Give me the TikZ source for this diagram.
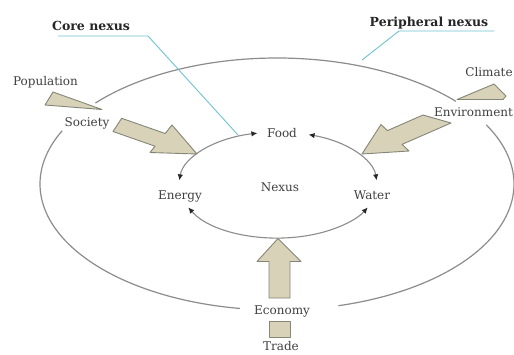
\documentclass[tikz,border=0pt]{standalone}
\usepackage{fontspec}
\setmainfont{DejaVu Serif}
\usetikzlibrary{arrows.meta}
\definecolor{beige}{HTML}{D8D3B8}
\definecolor{edgegray}{HTML}{858578}
\definecolor{linegray}{HTML}{8C8C8C}
\definecolor{leader}{HTML}{6EC3D3}
\definecolor{txt}{HTML}{404040}
\begin{document}
\begin{tikzpicture}[x=1pt,y=-1pt,
  lbl/.style={font=\fontsize{12}{14}\selectfont, text=txt, inner sep=0pt, anchor=base},
  ttl/.style={font=\fontsize{12.5}{14}\selectfont\bfseries, text=black!85, inner sep=0pt, anchor=base},
  bigarrow/.style={fill=beige, draw=edgegray, line width=0.9pt, line join=round},
  outer/.style={draw=linegray, line width=1.2pt},
  innerarc/.style={draw=linegray, line width=1.1pt,
     {Latex[length=6pt,width=5.5pt,color=black!85]}-{Latex[length=6pt,width=5.5pt,color=black!85]}},
  leaderline/.style={draw=leader, line width=0.9pt}]
\useasboundingbox (0,0) rectangle (514,354);
\fill[white] (0,0) rectangle (514,354);

% centres
\coordinate (O) at (277,184);
\coordinate (I) at (278,185);

% outer (peripheral) ellipse, broken at labels
\draw[outer] (O) ++(-140:237 and 126) arc[start angle=-140, end angle=-41, x radius=237, y radius=126];
\draw[outer] (O) ++(-28:237 and 126) arc[start angle=-28, end angle=75, x radius=237, y radius=126];
\draw[outer] (O) ++(99:237 and 126) arc[start angle=99, end angle=205, x radius=237, y radius=126];

% inner (core) loop
\draw[innerarc] (I) ++(-102:99 and 53) arc[start angle=-102, end angle=-175, x radius=99, y radius=53];
\draw[innerarc] (I) ++(-72:99 and 53) arc[start angle=-72, end angle=-5, x radius=99, y radius=53];
\draw[innerarc] (I) ++(155:99 and 53) arc[start angle=155, end angle=25, x radius=99, y radius=53];

% big arrows
\draw[bigarrow] (121.7,118.3) -- (165.2,133.5) -- (172,125) -- (197,154) -- (150,152.5) -- (155,146.2) -- (113,131.5) -- cycle;
\draw[bigarrow] (362,154) -- (381,124.5) -- (387.4,130.6) -- (423,115) -- (451,123) -- (402,144.4) -- (409,151) -- cycle;
\draw[bigarrow] (278,238.5) -- (301,261.5) -- (290,261.5) -- (290,298) -- (269,298) -- (269,261.5) -- (257,261.5) -- cycle;
\draw[bigarrow] (269,321) rectangle (290,337);
% wedges (population, climate)
\draw[bigarrow] (53,92) -- (45,105) -- (102,109.5) -- cycle;
\draw[bigarrow] (457,99.5) -- (494,84) -- (506,96) -- (503,99.5) -- cycle;

% leader lines
\coordinate (cn1) at (58,36);
\coordinate (cn2) at (148,36);
\coordinate (cn3) at (238,135);
\draw[leaderline] (cn1) -- (cn2) -- (cn3);
\coordinate (pn1) at (494,31);
\coordinate (pn2) at (399,31);
\coordinate (pn3) at (362,60);
\draw[leaderline] (pn1) -- (pn2) -- (pn3);

% labels
\node[ttl] (core) at (91,30) {Core nexus};
\node[ttl] (peri) at (429,26) {Peripheral nexus};
\node[lbl] (pop) at (45.5,85) {Population};
\node[lbl] (soc) at (87,126) {Society};
\node[lbl] (cli) at (489,76) {Climate};
\node[lbl] (env) at (473.5,116) {Environment};
\node[lbl] (food) at (282,137) {Food};
\node[lbl] (energy) at (180,199) {Energy};
\node[lbl] (nexus) at (280,191) {Nexus};
\node[lbl] (water) at (372,199) {Water};
\node[lbl] (eco) at (282,314) {Economy};
\node[lbl] (trade) at (281,350.5) {Trade};
\end{tikzpicture}
\end{document}
